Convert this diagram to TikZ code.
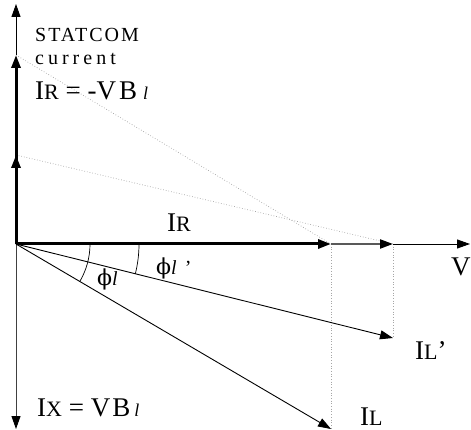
\documentclass[tikz,border=0pt]{standalone}
\usepackage{fontspec}
\setmainfont{Liberation Serif}
\newfontfamily\spaced[LetterSpace=10]{Liberation Serif}
\newfontfamily\spacedb[LetterSpace=20]{Liberation Serif}
\newfontfamily\phifont{DejaVu Serif}
\usetikzlibrary{arrows.meta}
\newcommand\fsz[1]{\fontsize{#1}{#1}\selectfont}
\begin{document}
\begin{tikzpicture}[x=1pt,y=-1pt,
  tip/.style={-{Triangle[length=13pt,width=9pt,color=black,fill=black]}},
  thickvec/.style={line width=3pt, tip},
  thinvec/.style={line width=0.9pt, tip},
  proj/.style={draw=gray!70, line width=0.7pt, dotted},
  anglearc/.style={line width=0.7pt},
  lbl/.style={inner sep=0pt, anchor=base west},
]
\useasboundingbox (0,0) rectangle (471,430);
\coordinate (O) at (16,244);
\coordinate (top) at (16,4);
\coordinate (bot) at (16,429);
\coordinate (Vend) at (470,244);
\coordinate (S1) at (16,55);
\coordinate (S2) at (16,155);
\coordinate (IR1) at (331,244);
\coordinate (IR2) at (393,244);
\coordinate (IL) at (331,429);
\coordinate (ILp) at (393,338);
% projections
\draw[proj] (S1) -- (IR1);
\draw[proj] (S2) -- (IR2);
\draw[proj] (IR1) -- (IL);
\draw[proj] (IR2) -- (ILp);
% axes
\draw[thinvec] (S1) -- (top);
\draw[thinvec, draw=black!75] (O) -- (bot);
\draw[thinvec] (IR2) -- (Vend);
% STATCOM current vectors
\draw[thickvec] (O) -- (S1);
\draw[thickvec] (O) -- (S2);
% IR
\draw[thickvec] (O) -- (IR1);
\draw[tip, line width=2.2pt, draw=black!65] (IR1) -- (IR2);
% load currents
\draw[thinvec] (O) -- (IL);
\draw[thinvec] (O) -- (ILp);
% angle arcs
\draw[anglearc] (O) ++(0:74) arc[start angle=0, end angle=30.56, radius=74];
\draw[anglearc] (O) ++(0:123) arc[start angle=0, end angle=14.0, radius=123];
% labels
\node[lbl] (statcom) at (35,42) {\fsz{20}\spaced STATCOM};
\node[lbl] (current) at (35,65) {\fsz{20}\spacedb current};
\node[lbl] (irtop) at (35,100) {\fsz{27}I\fsz{22}R\fsz{27} = -V\kern3pt B\kern6pt\fsz{18}\textit{l}};
\node[lbl] (irlab) at (167,232) {\fsz{27}I\fsz{22}R};
\node[lbl] (phil) at (97,286) {\fsz{22}\phifont ϕ\fsz{20}\rmfamily\textit{l}};
\node[lbl] (philp) at (156,275) {\fsz{22}\phifont ϕ\fsz{20}\rmfamily\textit{l}\hspace{8pt}’};
\node[lbl] (ixlab) at (37,416) {\fsz{27}I\fsz{22}X\fsz{27} = V\kern2pt B\kern4pt\fsz{18}\textit{l}};
\node[lbl] (vlab) at (451,276) {\fsz{27}V};
\node[lbl] (ilplab) at (415,359) {\fsz{27}I\fsz{22}L\fsz{27}’};
\node[lbl] (illab) at (360,425) {\fsz{27}I\fsz{22}L};
\end{tikzpicture}
\end{document}
